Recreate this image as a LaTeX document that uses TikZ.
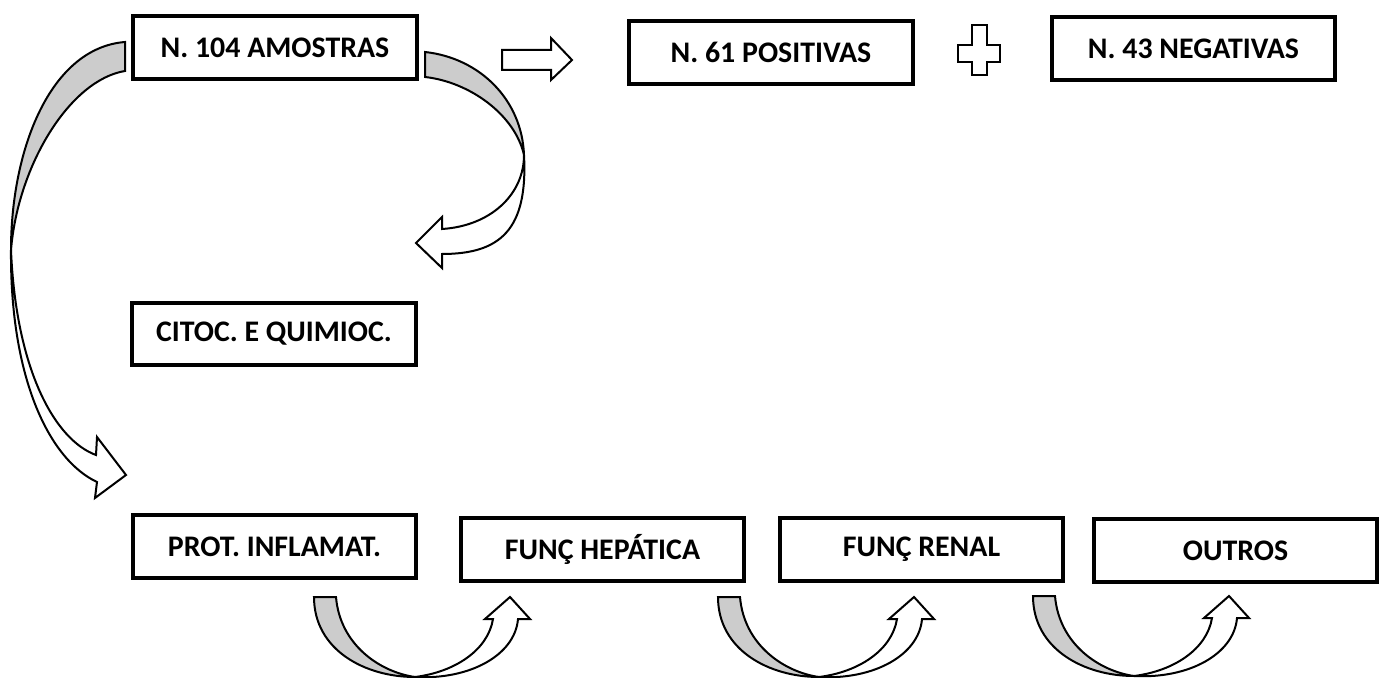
\documentclass[tikz,border=0pt]{standalone}
\usepackage{fontspec}
\setmainfont{Carlito}
\begin{document}
\begin{tikzpicture}[x=0.02cm,y=-0.02cm,
  box/.style={draw=black,line width=0.08cm,minimum width=5.68cm,minimum height=1.26cm,
    inner sep=0pt,font=\fontsize{17}{20}\selectfont\bfseries},
  arr/.style={draw=black,line width=0.04cm,line join=miter},
  back/.style={arr,fill=gray!40},
  front/.style={arr,fill=white}]
\useasboundingbox (0,0) rectangle (1385,678);

\node[box] (amo) at (275,47.5) {N. 104 AMOSTRAS};
\node[box] (pos) at (771,52.5) {N. 61 POSITIVAS};
\node[box] (neg) at (1193.5,48.5) {N. 43 NEGATIVAS};
\node[box] (cit) at (274,334) {CITOC. E QUIMIOC.};
\node[box] (pro) at (274.5,546.5) {PROT. INFLAMAT.};
\node[box] (hep) at (602.5,549.5) {FUNÇ HEPÁTICA};
\node[box] (ren) at (921.5,549.5) {FUNÇ RENAL};
\node[box] (out) at (1235.5,550.5) {OUTROS};

% block arrow to the right
\draw[front] (502,50) -- (551,50) -- (551,38) -- (572,60) -- (551,80) -- (551,70) -- (502,70) -- cycle;

% plus sign
\draw[front] (972,25) -- (987,25) -- (987,45) -- (1000,45) -- (1000,62) -- (987,62) -- (987,75)
  -- (972,75) -- (972,62) -- (958,62) -- (958,45) -- (972,45) -- cycle;

% left long curved arrow (to PROT. INFLAMAT.)
\draw[back] (125,42) .. controls (50,48) and (11,150) .. (11,250)
  .. controls (18,165) and (70,80) .. (125,71) -- cycle;
\draw[front] (11,250) .. controls (16,370) and (55,440) .. (96,455) -- (97,437) -- (126,475)
  -- (95,498) -- (97,482) .. controls (50,460) and (10,380) .. (11,250) -- cycle;

% right curved arrow (to CITOC.)
\draw[back] (425,52) .. controls (480,58) and (522,100) .. (524,155)
  .. controls (515,115) and (470,82) .. (425,77) -- cycle;
\draw[front] (524,155) .. controls (528,230) and (500,254) .. (442,254) -- (442,268) -- (416,243)
  -- (442,217) -- (442,229) .. controls (490,226) and (524,195) .. (524,155) -- cycle;

% bottom U-turn arrows
\foreach \dx/\dy in {0/0,404/0,719/-1}{
  \begin{scope}[shift={(\dx,\dy)}]
    \draw[back] (314,597) .. controls (314,650) and (365,677) .. (415,677)
      .. controls (380,672) and (340,645) .. (336,597) -- cycle;
    \draw[front] (415,677) .. controls (470,680) and (515,655) .. (518,619) -- (530,619) -- (510,597)
      -- (485,619) -- (493,619) .. controls (488,650) and (455,672) .. (415,677) -- cycle;
  \end{scope}
}
\end{tikzpicture}
\end{document}
